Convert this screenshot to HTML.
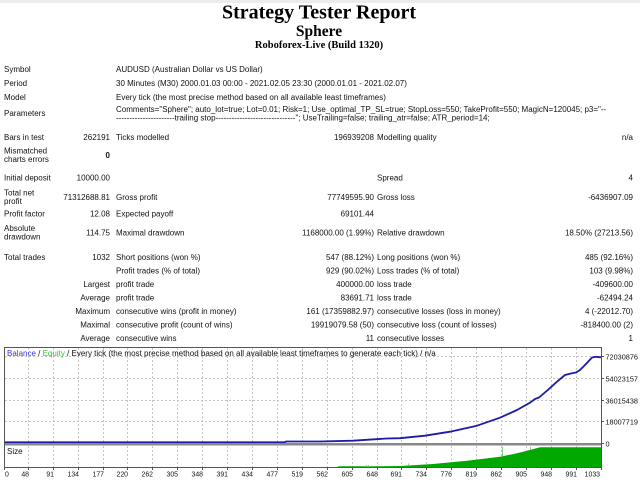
<!DOCTYPE html>
<html>
<head>
<meta charset="utf-8">
<style>
html,body{margin:0;padding:0;background:#fff;}
body{width:640px;height:480px;overflow:hidden;position:relative;}
svg{position:absolute;left:0;top:0;}
.t{font-family:"Liberation Sans",Arial,sans-serif;font-size:8px;fill:#111;}
.e{text-anchor:end;}
.r{font-family:"Liberation Sans",Arial,sans-serif;font-size:7.3px;fill:#111;}
.b{font-family:"Liberation Sans",Arial,sans-serif;font-size:6.9px;fill:#111;}
.h{font-family:"Liberation Serif","Times New Roman",serif;font-weight:bold;fill:#000;text-anchor:middle;}
</style>
</head>
<body>
<svg width="640" height="480" viewBox="0 0 640 480" xmlns="http://www.w3.org/2000/svg">
<rect x="0" y="0" width="640" height="480" fill="#fff"/>
<rect x="0" y="0" width="640" height="3" fill="#ececec"/>

<!-- Header -->
<text class="h" x="319" y="18.5" font-size="20">Strategy Tester Report</text>
<text class="h" x="319" y="36" font-size="15.5">Sphere</text>
<text class="h" x="319" y="48" font-size="10.5">Roboforex-Live (Build 1320)</text>

<!-- Info rows -->
<text class="t" x="4" y="72">Symbol</text>
<text class="t" x="116" y="72">AUDUSD (Australian Dollar vs US Dollar)</text>
<text class="t" x="4" y="86">Period</text>
<text class="t" x="116" y="86">30 Minutes (M30) 2000.01.03 00:00 - 2021.02.05 23:30 (2000.01.01 - 2021.02.07)</text>
<text class="t" x="4" y="100">Model</text>
<text class="t" x="116" y="100">Every tick (the most precise method based on all available least timeframes)</text>
<text class="t" x="4" y="116">Parameters</text>
<text class="t" x="116" y="112">Comments="Sphere"; auto_lot=true; Lot=0.01; Risk=1; Use_optimal_TP_SL=true; StopLoss=550; TakeProfit=550; MagicN=120045; p3="--</text>
<text class="t" x="116" y="120.5">----------------------trailing stop------------------------------"; UseTrailing=false; trailing_atr=false; ATR_period=14;</text>

<text class="t" x="4" y="140">Bars in test</text>
<text class="t e" x="110" y="140">262191</text>
<text class="t" x="116" y="140">Ticks modelled</text>
<text class="t e" x="374" y="140">196939208</text>
<text class="t" x="377" y="140">Modelling quality</text>
<text class="t e" x="633" y="140">n/a</text>

<text class="t" x="4" y="153.5">Mismatched</text>
<text class="t" x="4" y="162">charts errors</text>
<text class="t e" x="110" y="158" font-weight="bold">0</text>

<text class="t" x="4" y="180.5">Initial deposit</text>
<text class="t e" x="110" y="180.5">10000.00</text>
<text class="t" x="377" y="180.5">Spread</text>
<text class="t e" x="633" y="180.5">4</text>

<text class="t" x="4" y="195.5">Total net</text>
<text class="t" x="4" y="204">profit</text>
<text class="t e" x="110" y="200">71312688.81</text>
<text class="t" x="116" y="200">Gross profit</text>
<text class="t e" x="374" y="200">77749595.90</text>
<text class="t" x="377" y="200">Gross loss</text>
<text class="t e" x="633" y="200">-6436907.09</text>

<text class="t" x="4" y="216.5">Profit factor</text>
<text class="t e" x="110" y="216.5">12.08</text>
<text class="t" x="116" y="216.5">Expected payoff</text>
<text class="t e" x="374" y="216.5">69101.44</text>

<text class="t" x="4" y="231">Absolute</text>
<text class="t" x="4" y="239.5">drawdown</text>
<text class="t e" x="110" y="235.5">114.75</text>
<text class="t" x="116" y="235.5">Maximal drawdown</text>
<text class="t e" x="374" y="235.5">1168000.00 (1.99%)</text>
<text class="t" x="377" y="235.5">Relative drawdown</text>
<text class="t e" x="633" y="235.5">18.50% (27213.56)</text>

<text class="t" x="4" y="260">Total trades</text>
<text class="t e" x="110" y="260">1032</text>
<text class="t" x="116" y="260">Short positions (won %)</text>
<text class="t e" x="374" y="260">547 (88.12%)</text>
<text class="t" x="377" y="260">Long positions (won %)</text>
<text class="t e" x="633" y="260">485 (92.16%)</text>

<text class="t" x="116" y="273.5">Profit trades (% of total)</text>
<text class="t e" x="374" y="273.5">929 (90.02%)</text>
<text class="t" x="377" y="273.5">Loss trades (% of total)</text>
<text class="t e" x="633" y="273.5">103 (9.98%)</text>

<text class="t e" x="110" y="287">Largest</text>
<text class="t" x="116" y="287">profit trade</text>
<text class="t e" x="374" y="287">400000.00</text>
<text class="t" x="377" y="287">loss trade</text>
<text class="t e" x="633" y="287">-409600.00</text>

<text class="t e" x="110" y="300.5">Average</text>
<text class="t" x="116" y="300.5">profit trade</text>
<text class="t e" x="374" y="300.5">83691.71</text>
<text class="t" x="377" y="300.5">loss trade</text>
<text class="t e" x="633" y="300.5">-62494.24</text>

<text class="t e" x="110" y="314">Maximum</text>
<text class="t" x="116" y="314">consecutive wins (profit in money)</text>
<text class="t e" x="374" y="314">161 (17359882.97)</text>
<text class="t" x="377" y="314">consecutive losses (loss in money)</text>
<text class="t e" x="633" y="314">4 (-22012.70)</text>

<text class="t e" x="110" y="327.5">Maximal</text>
<text class="t" x="116" y="327.5">consecutive profit (count of wins)</text>
<text class="t e" x="374" y="327.5">19919079.58 (50)</text>
<text class="t" x="377" y="327.5">consecutive loss (count of losses)</text>
<text class="t e" x="633" y="327.5">-818400.00 (2)</text>

<text class="t e" x="110" y="341">Average</text>
<text class="t" x="116" y="341">consecutive wins</text>
<text class="t e" x="374" y="341">11</text>
<text class="t" x="377" y="341">consecutive losses</text>
<text class="t e" x="633" y="341">1</text>

<!-- Chart grid -->
<g stroke="#c4c4c4" stroke-width="1" stroke-dasharray="2,2" fill="none">
  <line x1="5" y1="356.5" x2="601" y2="356.5"/>
  <line x1="5" y1="378.5" x2="601" y2="378.5"/>
  <line x1="5" y1="400.5" x2="601" y2="400.5"/>
  <line x1="5" y1="421.5" x2="601" y2="421.5"/>
  <path d="M28.5 348V443M53.5 348V443M78.5 348V443M103.5 348V443M127.5 348V443M152.5 348V443M177.5 348V443M202.5 348V443M227.5 348V443M252.5 348V443M277.5 348V443M302.5 348V443M327.5 348V443M352.5 348V443M377.5 348V443M401.5 348V443M426.5 348V443M451.5 348V443M476.5 348V443M501.5 348V443M526.5 348V443M551.5 348V443M576.5 348V443"/>
  <path d="M28.5 446V467M53.5 446V467M78.5 446V467M103.5 446V467M127.5 446V467M152.5 446V467M177.5 446V467M202.5 446V467M227.5 446V467M252.5 446V467M277.5 446V467M302.5 446V467M327.5 446V467M352.5 446V467M377.5 446V467M401.5 446V467M426.5 446V467M451.5 446V467M476.5 446V467M501.5 446V467M526.5 446V467M551.5 446V467M576.5 446V467"/>
</g>

<!-- size area -->
<polygon fill="#00a800" points="338,467 338,466.3 380,466.3 400,466 433,464 467,460.7 500,456.7 517,453.3 530,450 540,447.3 601,447.3 601,467"/>
<g stroke="#7fd07f" stroke-width="1">
  <line x1="502.5" y1="456.5" x2="502.5" y2="447"/>
  <line x1="530.5" y1="450" x2="530.5" y2="447"/>
  <line x1="408.5" y1="466" x2="408.5" y2="463.5"/>
  <line x1="366.5" y1="467" x2="366.5" y2="465"/>
  <line x1="368.5" y1="467" x2="368.5" y2="465"/>
  <line x1="340.5" y1="467" x2="340.5" y2="465.5"/>
</g>

<!-- balance curve -->
<polyline fill="none" stroke="#1c1ca8" stroke-width="1.8" stroke-linejoin="round"
 points="5,442.3 285,442.3 286,441.5 320,441.5 353,440.7 387,438.5 400,438.2 425,435.7 450,431.7 477,425.7 500,417.7 517,410 530,402.7 535,399 539,397.5 547,390.7 557,381.7 565,375 572,373.3 576,372.5 580,370 585,365 592,357.5 596,356.8 601,357.3"/>

<!-- separator and borders -->
<rect x="4" y="443" width="598" height="2.5" fill="#888"/>
<g stroke="#555" stroke-width="1" fill="none">
  <line x1="4.5" y1="347" x2="4.5" y2="468"/>
  <line x1="4" y1="347.5" x2="602" y2="347.5"/>
  <line x1="601.5" y1="347" x2="601.5" y2="468"/>
  <line x1="4" y1="467.5" x2="602" y2="467.5"/>
</g>
<g stroke="#555" stroke-width="1">
  <line x1="601" y1="356.5" x2="604" y2="356.5"/>
  <line x1="601" y1="378.5" x2="604" y2="378.5"/>
  <line x1="601" y1="400.5" x2="604" y2="400.5"/>
  <line x1="601" y1="421.5" x2="604" y2="421.5"/>
  <line x1="601" y1="443.5" x2="604" y2="443.5"/>
  <path d="M4.5 468V470M28.5 468V470M53.5 468V470M78.5 468V470M103.5 468V470M127.5 468V470M152.5 468V470M177.5 468V470M202.5 468V470M227.5 468V470M252.5 468V470M277.5 468V470M302.5 468V470M327.5 468V470M352.5 468V470M377.5 468V470M401.5 468V470M426.5 468V470M451.5 468V470M476.5 468V470M501.5 468V470M526.5 468V470M551.5 468V470M576.5 468V470M601.5 468V470"/>
</g>

<!-- legend -->
<text class="t" x="7" y="356"><tspan fill="#3a3ad0">Balance</tspan> / <tspan fill="#2ec82e">Equity</tspan> / Every tick (the most precise method based on all available least timeframes to generate each tick) / n/a</text>
<text class="t" x="7" y="454">Size</text>

<!-- right labels -->
<text class="r" x="605.5" y="359.5">72030876</text>
<text class="r" x="605.5" y="381.5">54023157</text>
<text class="r" x="605.5" y="403.5">36015438</text>
<text class="r" x="605.5" y="424.5">18007719</text>
<text class="r" x="605.5" y="446.5">0</text>

<!-- bottom labels -->
<text class="b" x="5" y="476.5">0</text>
<text class="b e" x="29" y="476.5">48</text>
<text class="b e" x="54" y="476.5">91</text>
<text class="b e" x="79" y="476.5">134</text>
<text class="b e" x="104" y="476.5">177</text>
<text class="b e" x="128" y="476.5">220</text>
<text class="b e" x="153" y="476.5">262</text>
<text class="b e" x="178" y="476.5">305</text>
<text class="b e" x="203" y="476.5">348</text>
<text class="b e" x="228" y="476.5">391</text>
<text class="b e" x="253" y="476.5">434</text>
<text class="b e" x="278" y="476.5">477</text>
<text class="b e" x="303" y="476.5">519</text>
<text class="b e" x="328" y="476.5">562</text>
<text class="b e" x="353" y="476.5">605</text>
<text class="b e" x="378" y="476.5">648</text>
<text class="b e" x="402" y="476.5">691</text>
<text class="b e" x="427" y="476.5">734</text>
<text class="b e" x="452" y="476.5">776</text>
<text class="b e" x="477" y="476.5">819</text>
<text class="b e" x="502" y="476.5">862</text>
<text class="b e" x="527" y="476.5">905</text>
<text class="b e" x="552" y="476.5">948</text>
<text class="b e" x="577" y="476.5">991</text>
<text class="b e" x="600" y="476.5">1033</text>
</svg>
</body>
</html>
